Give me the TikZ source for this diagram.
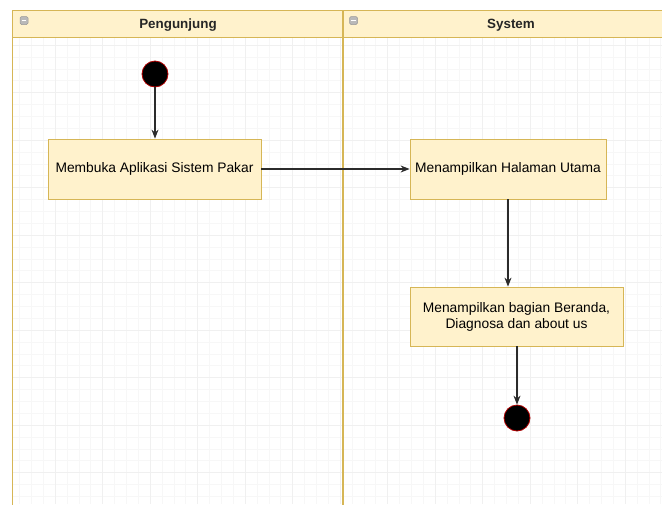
\documentclass[tikz,border=0pt]{standalone}
\usepackage{fontspec}
\setmainfont{Liberation Sans}
\usetikzlibrary{arrows.meta}
\definecolor{laneFill}{HTML}{FFF2CC}
\definecolor{laneLine}{HTML}{D6B656}
\definecolor{flowLine}{HTML}{2B2B2B}
\begin{document}
\begin{tikzpicture}[x=1pt,y=-1pt,
  action/.style={draw=laneLine, fill=laneFill, line width=0.8pt, inner sep=0pt,
    align=center, text=black, font=\fontsize{13.8}{16}\selectfont},
  lanetitle/.style={font=\bfseries\fontsize{13.4}{16}\selectfont, text=black!85, inner sep=0pt},
  collapse/.style={draw=gray!80, fill=gray!55, rounded corners=1.5pt, minimum width=8pt,
    minimum height=8pt, inner sep=0pt, line width=0.5pt},
  startstop/.style={circle, fill=black, draw=red!70!black, line width=0.8pt,
    minimum size=26pt, inner sep=0pt},
  flow/.style={draw=flowLine, line width=1.1pt, -{Stealth[length=9pt,width=7pt]}},
  majorgrid/.style={draw=gray!12, line width=0.6pt},
  minorgrid/.style={draw=gray!6, line width=0.4pt},
  laneborder/.style={draw=laneLine, line width=1.6pt}]
\useasboundingbox (0,0) rectangle (662,504);
\fill[white] (0,0) rectangle (662,504);

% background grid
\foreach \k in {-4,...,56} {
  \draw[minorgrid] ({7.5+11.875*\k},37) -- ({7.5+11.875*\k},504);
  \draw[minorgrid] (12,{45+11.875*\k}) -- (662,{45+11.875*\k});
}
\clip (0,0) rectangle (662,504);
\foreach \k in {0,...,13} {
  \draw[majorgrid] ({55+47.5*\k},37) -- ({55+47.5*\k},504);
}
\foreach \k in {0,...,10} {
  \draw[majorgrid] (12,{45+47.5*\k}) -- (662,{45+47.5*\k});
}
\fill[white] (0,0) rectangle (662,37);
\fill[white] (0,0) rectangle (12,504);

% swimlane pool
\draw[laneLine, fill=laneFill, line width=0.9pt] (12,10) rectangle (680,37);
\draw[laneborder] (12.5,37) -- (12.5,510);
\draw[laneborder] (343,10) -- (343,510);
\node[lanetitle] (laneA) at (178,25) {Pengunjung};
\node[lanetitle] (laneB) at (511,25) {System};
\node[collapse] (minA) at (24,20.5) {};
\draw[white, line width=1pt] ([xshift=-2.3pt]minA.center) -- ([xshift=2.3pt]minA.center);
\node[collapse] (minB) at (353.5,20.5) {};
\draw[white, line width=1pt] ([xshift=-2.3pt]minB.center) -- ([xshift=2.3pt]minB.center);

% activities
\node[startstop] (start) at (155,74) {};
\node[action, minimum width=213pt, minimum height=60pt] (open) at (154.5,169) {Membuka Aplikasi Sistem Pakar};
\node[action, minimum width=196pt, minimum height=60pt] (home) at (508,169) {Menampilkan Halaman Utama};
\node[action, minimum width=213pt, minimum height=59pt] (menu) at (516.5,316.5) {Menampilkan bagian Beranda,\\Diagnosa dan about us};
\node[startstop] (finish) at (517,418) {};

% transitions
\draw[flow] (start) -- (start |- open.north);
\draw[flow] (open) -- (home);
\draw[flow] (home.south) -- (home.south |- menu.north);
\draw[flow] (menu.south -| finish) -- (finish);
\end{tikzpicture}
\end{document}
